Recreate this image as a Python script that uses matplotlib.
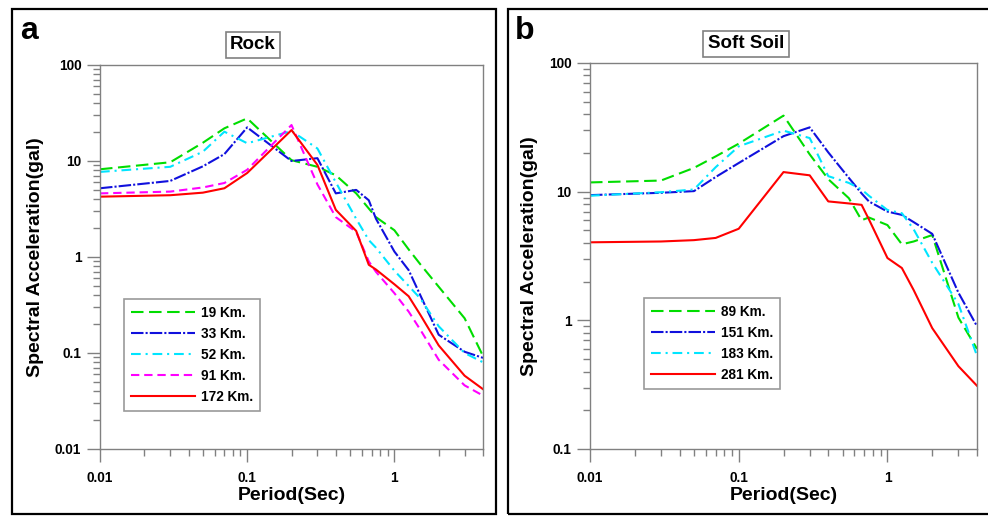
import matplotlib
matplotlib.use("Agg")
import matplotlib.pyplot as plt
from matplotlib.patches import Rectangle
from matplotlib.ticker import LogLocator, NullFormatter, FixedLocator, FixedFormatter

plt.rcParams["font.family"] = ["Liberation Sans", "DejaVu Sans"]
plt.rcParams["font.weight"] = "bold"
plt.rcParams["lines.scale_dashes"] = False

# Spectral periods (s)
periods = [0.01, 0.03, 0.05, 0.07, 0.1, 0.2, 0.3, 0.4, 0.55, 0.67, 0.75,
           1.0, 1.25, 1.5, 2.0, 3.0, 4.0]

# Rock site spectra (gal)
rock_labels = ["19 Km.", "33 Km.", "52 Km.", "91 Km.", "172 Km."]
rock_19 = [8.2, 9.7, 15.5, 21.9, 27.8, 10.2, 8.7, 7.1, 4.6, 3.2, 2.6,
           1.9, 1.2, 0.84, 0.49, 0.23, 0.093]
rock_33 = [5.2, 6.2, 8.8, 11.8, 22.4, 10.0, 10.7, 4.6, 5.0, 3.9, 2.5,
           1.14, 0.73, 0.40, 0.155, 0.103, 0.089]
rock_52 = [7.7, 8.7, 12.5, 20.2, 15.3, 20.5, 13.5, 6.0, 2.5, 1.5, 1.25,
           0.72, 0.5, 0.37, 0.19, 0.1, 0.08]
rock_91 = [4.6, 4.8, 5.3, 5.9, 8.1, 23.7, 5.7, 2.6, 1.83, 0.9, 0.7,
           0.42, 0.27, 0.175, 0.085, 0.046, 0.036]
rock_172 = [4.25, 4.4, 4.68, 5.2, 7.5, 21.0, 9.1, 3.1, 1.87, 0.83, 0.74,
            0.52, 0.39, 0.25, 0.12, 0.058, 0.042]

# Soft soil site spectra (gal)
soil_labels = ["89 Km.", "151 Km.", "183 Km.", "281 Km."]
soil_89 = [11.8, 12.2, 15.3, 18.8, 23.6, 39.0, 19.5, 12.5, 8.9, 6.0, 6.3,
           5.5, 3.9, 4.1, 4.6, 1.05, 0.6]
soil_151 = [9.4, 9.8, 10.1, 13.0, 16.7, 27.0, 31.6, 20.2, 12.8, 9.7, 8.4,
            7.0, 6.6, 5.8, 4.7, 1.64, 0.9]
soil_183 = [9.3, 9.9, 10.4, 15.5, 22.5, 29.8, 26.1, 13.2, 11.7, 10.4, 9.3,
            7.2, 6.8, 5.1, 2.8, 1.34, 0.53]
soil_281 = [4.04, 4.1, 4.2, 4.37, 5.15, 14.2, 13.4, 8.4, 8.1, 7.9, 6.1,
            3.05, 2.55, 1.72, 0.87, 0.44, 0.31]

green_ls = (0, (9, 4))
blue_ls = (0, (9, 1.5, 1.5, 1.5))
cyan_ls = (0, (7, 3.5, 1.5, 3.5))
mag_ls = (0, (6, 3.5))
red_ls = "-"
LW = 1.5

colors = {"g": "#00dd00", "b": "#1010dd", "c": "#00e5ff", "m": "#ff00ff", "r": "#ff0000"}
gray = "#808080"

fig = plt.figure(figsize=(9.88, 5.16), dpi=100)
W, H = 988, 516


def px_axes(l, r, t, b):
    return fig.add_axes([l / W, 1 - b / H, (r - l) / W, (b - t) / H])


def style_axes(ax, ymin):
    ax.set_xscale("log")
    ax.set_yscale("log")
    ax.set_xlim(0.01, 4)
    ax.set_ylim(ymin, 100)
    for s in ax.spines.values():
        s.set_color(gray)
        s.set_linewidth(1.0)
    ax.xaxis.set_major_locator(FixedLocator([0.01, 0.1, 1]))
    ax.xaxis.set_major_formatter(FixedFormatter(["0.01", "0.1", "1"]))
    ax.xaxis.set_minor_locator(LogLocator(base=10, subs=range(2, 10)))
    ax.xaxis.set_minor_formatter(NullFormatter())
    yt = [v for v in [0.01, 0.1, 1, 10, 100] if v >= ymin]
    ax.yaxis.set_major_locator(FixedLocator(yt))
    ax.yaxis.set_major_formatter(FixedFormatter([("%g" % v) for v in yt]))
    ax.yaxis.set_minor_locator(LogLocator(base=10, subs=range(2, 10)))
    ax.yaxis.set_minor_formatter(NullFormatter())
    ax.tick_params(which="major", direction="out", length=9.5, width=1.0,
                   color=gray, labelsize=9.8, labelcolor="black")
    ax.tick_params(which="minor", direction="out", length=5, width=1.0, color=gray)
    ax.tick_params(axis="x", which="major", pad=6)
    ax.tick_params(axis="y", which="major", pad=4)
    for lab in ax.get_xticklabels() + ax.get_yticklabels():
        lab.set_fontweight("bold")
    ax.set_xlabel("Period(Sec)", fontsize=14, fontweight="bold", labelpad=2)
    ax.set_ylabel("Spectral Acceleration(gal)", fontsize=14, fontweight="bold", labelpad=8)


# Panel a: rock
ax1 = px_axes(100, 483, 65, 449)
style_axes(ax1, 0.01)
ax1.plot(periods, rock_19, color=colors["g"], ls=green_ls, lw=LW, label=rock_labels[0])
ax1.plot(periods, rock_33, color=colors["b"], ls=blue_ls, lw=LW, label=rock_labels[1])
ax1.plot(periods, rock_52, color=colors["c"], ls=cyan_ls, lw=LW, label=rock_labels[2])
ax1.plot(periods, rock_91, color=colors["m"], ls=mag_ls, lw=LW, label=rock_labels[3])
ax1.plot(periods, rock_172, color=colors["r"], ls=red_ls, lw=LW, label=rock_labels[4])

# Panel b: soft soil
ax2 = px_axes(590, 977, 63, 449)
style_axes(ax2, 0.1)
ax2.plot(periods, soil_89, color=colors["g"], ls=green_ls, lw=LW, label=soil_labels[0])
ax2.plot(periods, soil_151, color=colors["b"], ls=blue_ls, lw=LW, label=soil_labels[1])
ax2.plot(periods, soil_183, color=colors["c"], ls=cyan_ls, lw=LW, label=soil_labels[2])
ax2.plot(periods, soil_281, color=colors["r"], ls=red_ls, lw=LW, label=soil_labels[3])

for ax, anchor in [(ax1, (0.0627, 0.391)), (ax2, (0.1395, 0.391))]:
    leg = ax.legend(loc="upper left", bbox_to_anchor=anchor, fontsize=9.8,
                    frameon=True, fancybox=False, handlelength=4.7,
                    handletextpad=0.45, labelspacing=0.52, borderpad=0.5,
                    borderaxespad=0.0)
    fr = leg.get_frame()
    fr.set_edgecolor(gray)
    fr.set_linewidth(1.2)
    for t in leg.get_texts():
        t.set_fontweight("bold")

# Panel captions and titles
fig.text(20 / W, 1 - 31 / H, "a", fontsize=23, fontweight="bold", va="center", ha="left")
fig.text(515 / W, 1 - 31 / H, "b", fontsize=23, fontweight="bold", va="center", ha="left")
box = dict(boxstyle="square,pad=0.24", fc="white", ec=gray, lw=1.2)
fig.text(253 / W, 1 - 44.5 / H, "Rock", fontsize=13.5, fontweight="bold",
         ha="center", va="center", bbox=box)
fig.text(746 / W, 1 - 44 / H, "Soft Soil", fontsize=13.5, fontweight="bold",
         ha="center", va="center", bbox=box)

# Panel frames
for (l, r) in [(12, 496), (508, 990)]:
    fig.add_artist(Rectangle((l / W, 1 - 514 / H), (r - l) / W, (514 - 9) / H,
                             transform=fig.transFigure, fill=False,
                             ec="black", lw=1.6))

fig.savefig("out.png", dpi=100)
